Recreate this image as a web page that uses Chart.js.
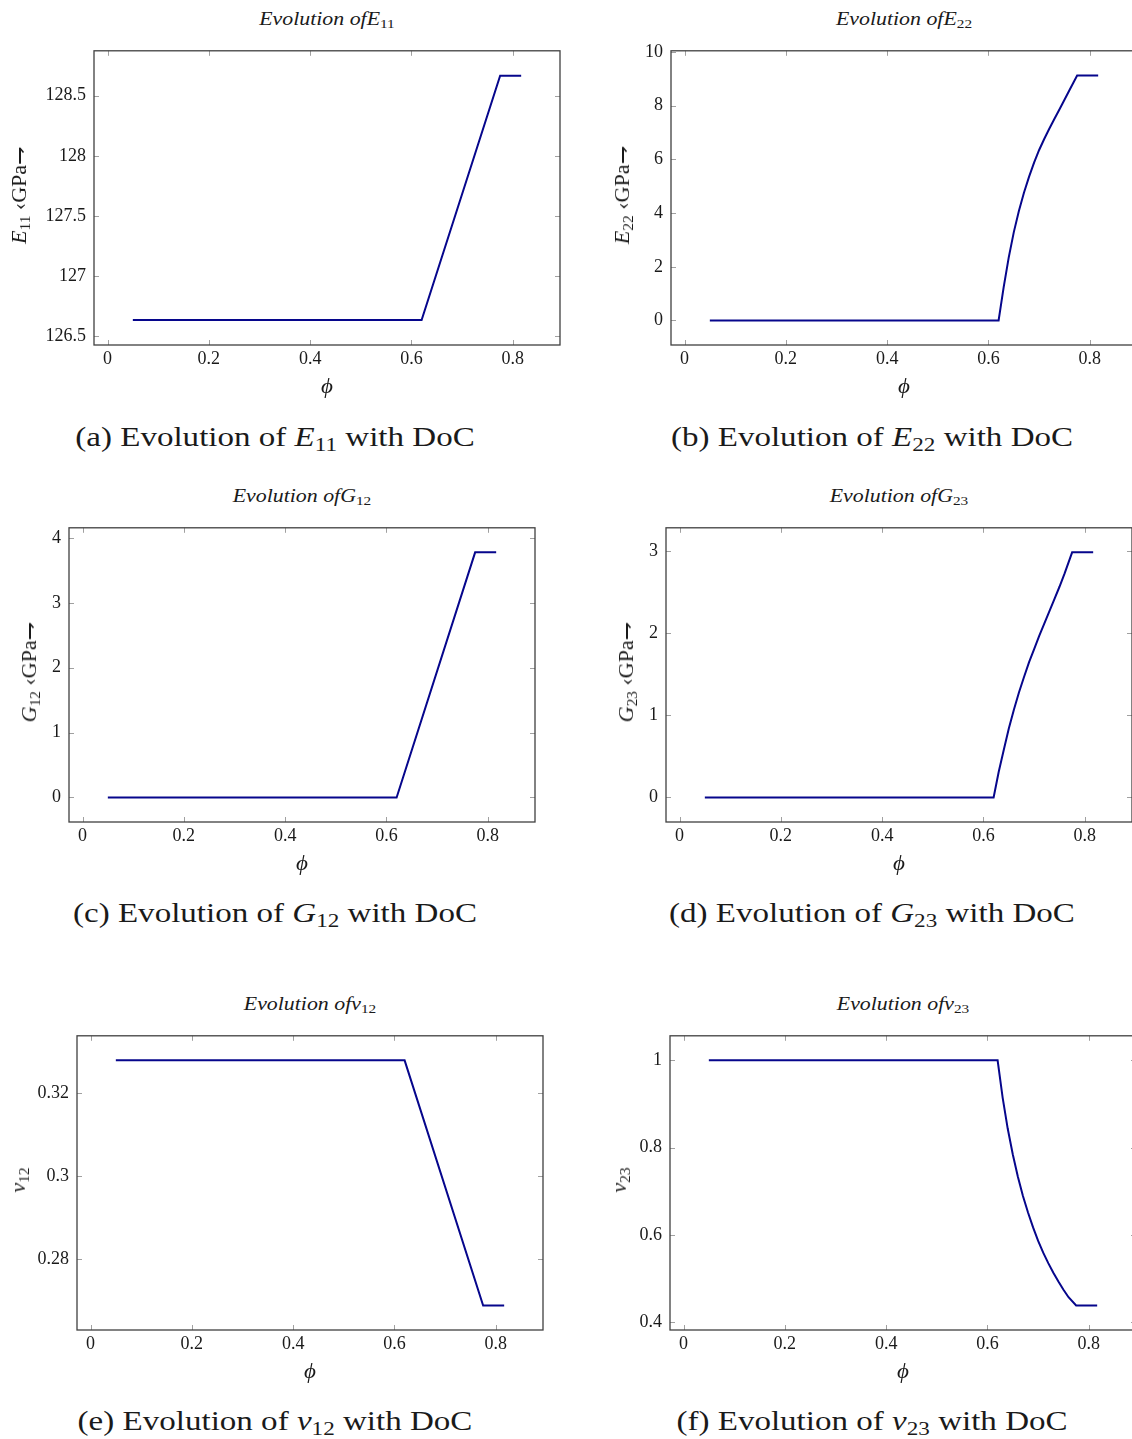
<!DOCTYPE html>
<html>
<head>
<meta charset="utf-8">
<script src="https://cdn.jsdelivr.net/npm/chart.js@4.4.1/dist/chart.umd.min.js"></script>
<style>
  html, body { margin: 0; padding: 0; background: #fff; overflow: hidden; }
  body { position: relative; width: 1132px; height: 1439px; font-family: 'Liberation Serif', serif; color: #1a1a1a; }
  canvas { position: absolute; }
  .t { position: absolute; transform: translate(-50%, -50%) scaleX(1.15); white-space: nowrap; line-height: 1; }
  .title { font-style: italic; font-size: 19px; }
  .xl { font-style: italic; font-size: 20px; }
  .yl { font-size: 20px; transform: translate(-50%, -50%) rotate(-90deg) scaleX(1.1); }
  .cap { font-size: 28px; transform: translate(-50%, -50%) scaleX(1.18); }
  sub { font-size: 70%; vertical-align: -0.25em; line-height: 0; font-style: normal; }
</style>
</head>
<body>
<script>
// phi (degree of cure) samples
const phiLinear = [0.05, 0.62, 0.775, 0.8165];
const e11 = [126.635, 126.635, 128.665, 128.665];
const g12 = [0, 0, 3.778, 3.778];
const nu12 = [0.328, 0.328, 0.26875, 0.26875];

const phiCurve = [0.05, 0.62, 0.63, 0.64, 0.65, 0.66, 0.67, 0.68, 0.69, 0.70, 0.71, 0.72, 0.73, 0.74, 0.75, 0.76, 0.775, 0.8165];
const e22  = [0, 0, 1.24, 2.35, 3.29, 4.08, 4.76, 5.35, 5.88, 6.35, 6.76, 7.14, 7.5, 7.86, 8.22, 8.58, 9.12, 9.12];
const g23  = [0, 0, 0.31, 0.58, 0.84, 1.07, 1.28, 1.47, 1.65, 1.81, 1.97, 2.12, 2.27, 2.42, 2.57, 2.73, 2.99, 2.99];
const nu23 = [1, 1, 0.914, 0.843, 0.784, 0.733, 0.689, 0.651, 0.617, 0.586, 0.559, 0.535, 0.513, 0.493, 0.474, 0.457, 0.438, 0.438];

const xTickStep = 0.2;
const xRange = [-0.02665, 0.89315];

const LINE = '#06068c';
const PLOT_W = 466, PLOT_H = 301;
const PAD_L = 80, PAD_T = 12, PAD_R = 12, PAD_B = 34;
const FONT = 'Liberation Serif';

Chart.defaults.font.family = FONT;
Chart.defaults.font.size = 18;
Chart.defaults.color = '#1a1a1a';

// inward tick marks on all four sides + the box frame
const framePlugin = {
  id: 'frame',
  afterDatasetsDraw(chart) {
    const { ctx, chartArea: a, scales: { x, y } } = chart;
    const len = 5;
    ctx.save();
    ctx.strokeStyle = '#a0a0a0';
    ctx.lineWidth = 1;
    ctx.beginPath();
    for (const t of x.ticks) {
      const px = Math.round(x.getPixelForValue(t.value)) + 0.5;
      ctx.moveTo(px, a.bottom); ctx.lineTo(px, a.bottom - len);
      ctx.moveTo(px, a.top); ctx.lineTo(px, a.top + len);
    }
    for (const t of y.ticks) {
      const py = Math.round(y.getPixelForValue(t.value)) + 0.5;
      ctx.moveTo(a.left, py); ctx.lineTo(a.left + len, py);
      ctx.moveTo(a.right, py); ctx.lineTo(a.right - len, py);
    }
    ctx.stroke();
    ctx.strokeStyle = '#404040';
    ctx.lineWidth = 1.3;
    ctx.strokeRect(a.left, a.top, a.width, a.height);
    ctx.restore();
  }
};

const fmt = v => String(+Number(v).toFixed(4));

function addText(cls, html, x, y) {
  const d = document.createElement('div');
  d.className = 't ' + cls;
  d.innerHTML = html;
  d.style.left = x + 'px';
  d.style.top = y + 'px';
  document.body.appendChild(d);
}

function makePanel(p) {
  const c = document.createElement('canvas');
  const w = PAD_L + PLOT_W + PAD_R, h = PAD_T + PLOT_H + PAD_B;
  c.width = w; c.height = h;
  c.style.width = w + 'px'; c.style.height = h + 'px';
  c.style.left = (p.left - PAD_L) + 'px';
  c.style.top = (p.top - PAD_T) + 'px';
  document.body.appendChild(c);

  const pts = p.xs.map((x, i) => ({ x, y: p.ys[i] }));
  const tickFont = { family: FONT, size: 18 };

  new Chart(c, {
    type: 'line',
    data: { datasets: [{ data: pts, borderColor: LINE, borderWidth: 2, pointRadius: 0, tension: 0, fill: false }] },
    options: {
      responsive: false,
      animation: false,
      events: [],
      layout: { padding: { left: 0, top: PAD_T, right: PAD_R, bottom: 0 } },
      plugins: { legend: { display: false }, tooltip: { enabled: false } },
      scales: {
        x: {
          type: 'linear',
          min: xRange[0], max: xRange[1],
          grid: { display: false, drawTicks: false },
          border: { display: false },
          afterFit: s => { s.height = PAD_B; },
          ticks: { stepSize: xTickStep, includeBounds: false, autoSkip: false, maxRotation: 0,
                   padding: 3, color: '#1a1a1a', font: tickFont, callback: fmt },
        },
        y: {
          type: 'linear',
          min: p.yRange[0], max: p.yRange[1],
          grid: { display: false, drawTicks: false },
          border: { display: false },
          afterFit: s => { s.width = PAD_L; },
          ticks: { stepSize: p.yStep, includeBounds: false, autoSkip: false,
                   padding: 8, color: '#1a1a1a', font: tickFont, callback: fmt },
        },
      },
    },
    plugins: [framePlugin],
  });

  const cx = p.left + PLOT_W / 2;
  addText('title', p.title, cx, p.top - 26);
  addText('xl', 'ϕ', cx, p.top + PLOT_H + 41);
  addText('yl', p.ylabel, p.ylx, p.top + PLOT_H / 2);
  addText('cap', p.caption, p.capx, p.capy);
}

const gpa = '&nbsp;‹GPa⇁';
const panels = [
  { left: 94, top: 44, xs: phiLinear, ys: e11, yRange: [126.427, 128.873], yStep: 0.5,
    title: 'Evolution of<i>E</i><sub>11</sub>', ylabel: '<i>E</i><sub>11</sub>' + gpa, ylx: 19,
    caption: '(a) Evolution of <i>E</i><sub>11</sub> with DoC', capx: 275, capy: 437 },
  { left: 671, top: 44, xs: phiCurve, ys: e22, yRange: [-0.913, 10.043], yStep: 2,
    title: 'Evolution of<i>E</i><sub>22</sub>', ylabel: '<i>E</i><sub>22</sub>' + gpa, ylx: 622,
    caption: '(b) Evolution of <i>E</i><sub>22</sub> with DoC', capx: 872, capy: 437 },
  { left: 69, top: 521, xs: phiLinear, ys: g12, yRange: [-0.378, 4.156], yStep: 1,
    title: 'Evolution of<i>G</i><sub>12</sub>', ylabel: '<i>G</i><sub>12</sub>' + gpa, ylx: 29,
    caption: '(c) Evolution of <i>G</i><sub>12</sub> with DoC', capx: 275, capy: 913 },
  { left: 666, top: 521, xs: phiCurve, ys: g23, yRange: [-0.299, 3.289], yStep: 1,
    title: 'Evolution of<i>G</i><sub>23</sub>', ylabel: '<i>G</i><sub>23</sub>' + gpa, ylx: 626,
    caption: '(d) Evolution of <i>G</i><sub>23</sub> with DoC', capx: 872, capy: 913 },
  { left: 77, top: 1029, xs: phiLinear, ys: nu12, yRange: [0.26282, 0.33393], yStep: 0.02,
    title: 'Evolution of<i>ν</i><sub>12</sub>', ylabel: '<i>ν</i><sub>12</sub>', ylx: 18,
    caption: '(e) Evolution of <i>ν</i><sub>12</sub> with DoC', capx: 275, capy: 1421 },
  { left: 670, top: 1029, xs: phiCurve, ys: nu23, yRange: [0.3818, 1.0562], yStep: 0.2,
    title: 'Evolution of<i>ν</i><sub>23</sub>', ylabel: '<i>ν</i><sub>23</sub>', ylx: 619,
    caption: '(f) Evolution of <i>ν</i><sub>23</sub> with DoC', capx: 872, capy: 1421 },
];

// canvas text does not trigger font loading, so load the serif face first
Promise.all([
  document.fonts.load("18px 'Liberation Serif'"),
  document.fonts.load("italic 18px 'Liberation Serif'"),
]).catch(() => {}).then(() => panels.forEach(makePanel));
</script>
</body>
</html>
